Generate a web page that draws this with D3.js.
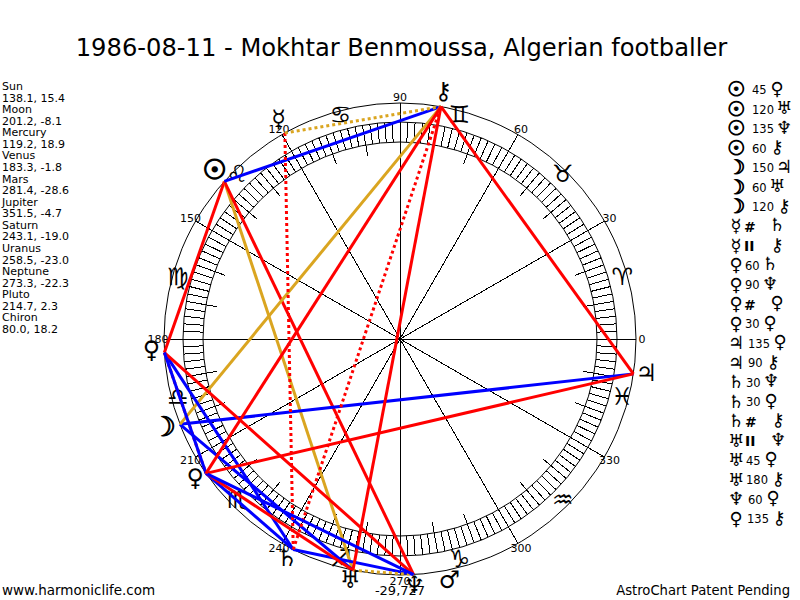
<!DOCTYPE html>
<html><head><meta charset="utf-8">
<script src="https://cdn.jsdelivr.net/npm/d3@7/dist/d3.min.js"></script>
<style>html,body{margin:0;padding:0;background:#fff}svg{display:block}text{font-family:"DejaVu Sans",sans-serif;fill:#000}text.g{font-family:"DejaVu Serif","DejaVu Sans",serif}</style>
</head><body><div id="c"></div>
<script>
const chartTitle = "1986-08-11 - Mokhtar Benmoussa, Algerian footballer";
const planetNames = ["Sun","Moon","Mercury","Venus","Mars","Jupiter","Saturn","Uranus","Neptune","Pluto","Chiron"];
const planetLongitudes = [138.1,201.2,119.2,183.3,281.4,351.5,243.1,258.5,273.3,214.7,80.0];
const planetDeclinations = [15.4,-8.1,18.9,-1.8,-28.6,-4.7,-19.0,-23.0,-22.3,2.3,18.2];
const planetGlyphs = ["☉","☽","☿","♀","♂","♃","♄","♅","♆","♀","⚷"];
const zodiacGlyphs = ["♈","♉","♊","♋","♌","♍","♎","♏","♐","♑","♒","♓"];
const degreeLabels = [0,30,60,90,120,150,180,210,240,270,300,330];
const aspectFrom = ["Sun","Sun","Sun","Sun","Moon","Moon","Moon","Mercury","Mercury","Venus","Venus","Venus","Venus","Jupiter","Jupiter","Saturn","Saturn","Saturn","Uranus","Uranus","Uranus","Neptune","Pluto"];
const aspectTypes = ["45","120","135","60","150","60","120","#","II","60","90","#","30","135","90","30","30","#","II","45","180","60","135"];
const aspectTo = ["Venus","Uranus","Neptune","Chiron","Jupiter","Uranus","Chiron","Saturn","Chiron","Saturn","Neptune","Pluto","Pluto","Pluto","Chiron","Neptune","Pluto","Chiron","Neptune","Pluto","Chiron","Pluto","Chiron"];
const footerLeft = "www.harmoniclife.com";
const footerRight = "AstroChart Patent Pending";
const centerLabel = "-29,727";

const W=800,H=600,cx=400,cy=339;
const svg=d3.select("#c").append("svg").attr("width",W).attr("height",H);
const ang=d3.scaleLinear().domain([0,360]).range([0,2*Math.PI]);
const rad=d3.scaleLinear().domain([0,1]).range([0,236]);
const pt=(deg,r)=>[cx+r*Math.cos(ang(deg)),cy-r*Math.sin(ang(deg))];
const crisp=svg.append("g").attr("shape-rendering","crispEdges");

svg.append("text").attr("x",401.5).attr("y",56).attr("text-anchor","middle").attr("font-size",24.2).text(chartTitle);

// circles
const R=rad(1),Rb=217,Ra=197,Rl=186;
const chartG=svg.append("g").attr("fill","none").attr("stroke","#000");
[R,Rb,Ra].forEach(r=>chartG.append("circle").attr("cx",cx).attr("cy",cy).attr("r",r));
const ticks=d3.range(0,360,2);
crisp.selectAll("line.t").data(ticks).join("line").attr("class","t")
 .each(function(d){const inner=d%10===0?Rl:Ra;const a=pt(d,inner),b=pt(d,Rb);
   d3.select(this).attr("x1",a[0]).attr("y1",a[1]).attr("x2",b[0]).attr("y2",b[1]);})
 .attr("stroke","#000");
crisp.selectAll("line.s").data(degreeLabels).join("line").attr("class","s")
 .each(function(d){const b=pt(d,R);d3.select(this).attr("x1",cx).attr("y1",cy).attr("x2",b[0]).attr("y2",b[1]);})
 .attr("stroke","#000");

// degree labels
svg.selectAll("text.d").data(degreeLabels).join("text").attr("class","d")
 .attr("font-size",11).attr("text-anchor","middle").attr("dominant-baseline","central")
 .attr("x",d=>pt(d,242)[0]).attr("y",d=>pt(d,242)[1]).text(d=>d);

// zodiac
svg.selectAll("text.z").data(zodiacGlyphs).join("text").attr("class","z g")
 .attr("font-size",24).attr("text-anchor","middle").attr("dominant-baseline","central")
 .attr("x",(d,i)=>pt(15+30*i,230)[0]).attr("y",(d,i)=>pt(15+30*i,230)[1]-2).text(d=>d+"\uFE0E");

// aspects
const lonOf=n=>planetLongitudes[planetNames.indexOf(n)];
const glyphOf=n=>planetGlyphs[planetNames.indexOf(n)];
const colorOf=t=>t==="120"||t==="II"?"#DAA520":(t==="45"||t==="90"||t==="135"||t==="180"||t==="#")?"#FF0000":"#0000FF";
const aspects=aspectTypes.map((t,i)=>({t,a:aspectFrom[i],b:aspectTo[i]}));
svg.append("g").selectAll("line").data(aspects).join("line")
 .attr("x1",d=>pt(lonOf(d.a),R)[0]).attr("y1",d=>pt(lonOf(d.a),R)[1])
 .attr("x2",d=>pt(lonOf(d.b),R)[0]).attr("y2",d=>pt(lonOf(d.b),R)[1])
 .attr("stroke",d=>colorOf(d.t)).attr("stroke-width",3)
 .attr("stroke-dasharray",d=>d.t==="#"||d.t==="II"?"3,3":null);

// planet glyphs
const heavy=g=>g==="☉"||g==="☽";
svg.selectAll("text.p").data(planetGlyphs).join("text").attr("class","p g")
 .attr("font-size",d=>heavy(d)?27:24).attr("text-anchor","middle").attr("dominant-baseline","central")
 .attr("stroke",d=>heavy(d)?"#000":null).attr("stroke-width",d=>d==="☉"?1.4:d==="☽"?0.9:null)
 .attr("x",(d,i)=>pt(planetLongitudes[i],249)[0]+(d==="☽"?-4:0)).attr("y",(d,i)=>pt(planetLongitudes[i],249)[1]-3).text(d=>d+"\uFE0E");

// left list
const lines=[];
planetNames.forEach((n,i)=>{lines.push(n);lines.push(planetLongitudes[i].toFixed(1)+", "+planetDeclinations[i].toFixed(1));});
const yL=d3.scaleLinear().domain([0,lines.length-1]).range([90,333]);
svg.selectAll("text.l").data(lines).join("text").attr("class","l").attr("font-size",11).attr("x",2).attr("y",(d,i)=>yL(i)).text(d=>d);

// right list
const numX={Sun:752,Moon:752,Mercury:745,Venus:745,Jupiter:748,Saturn:746,Uranus:746,Neptune:748,Pluto:747};
const isPar=t=>t==="#"||t==="II";
const yR=d3.scaleLinear().domain([0,aspects.length-1]).range([89,518]);
const rows=svg.selectAll("g.r").data(aspects).join("g").attr("class","r").attr("transform",(d,i)=>`translate(0,${yR(i)})`);
rows.append("text").attr("class","g").attr("x",736).attr("font-size",d=>heavy(glyphOf(d.a))?20:18).attr("text-anchor","middle").attr("dominant-baseline","central")
 .attr("stroke",d=>heavy(glyphOf(d.a))?"#000":null).attr("stroke-width",d=>heavy(glyphOf(d.a))?0.9:null).text(d=>glyphOf(d.a)+"\uFE0E");
rows.append("text").attr("x",d=>numX[d.a]+(isPar(d.t)?-1:0)).attr("y",1).attr("font-size",d=>isPar(d.t)?14:11.5)
 .attr("font-weight",d=>isPar(d.t)?"bold":null)
 .attr("dominant-baseline","central").text(d=>d.t);
rows.append("text").attr("class","g").attr("x",d=>{const w=isPar(d.t)?19:d.t.length*7;return numX[d.a]+w+(isPar(d.t)?13:11);})
 .attr("y",-1).attr("font-size",18).attr("text-anchor","middle").attr("dominant-baseline","central").text(d=>glyphOf(d.b)+"\uFE0E");

svg.append("text").attr("x",400).attr("y",595).attr("text-anchor","middle").attr("font-size",13).text(centerLabel);
svg.append("text").attr("x",2).attr("y",595).attr("font-size",13.5).text(footerLeft);
svg.append("text").attr("x",790).attr("y",595).attr("text-anchor","end").attr("font-size",13.2).text(footerRight);
</script></body></html>
